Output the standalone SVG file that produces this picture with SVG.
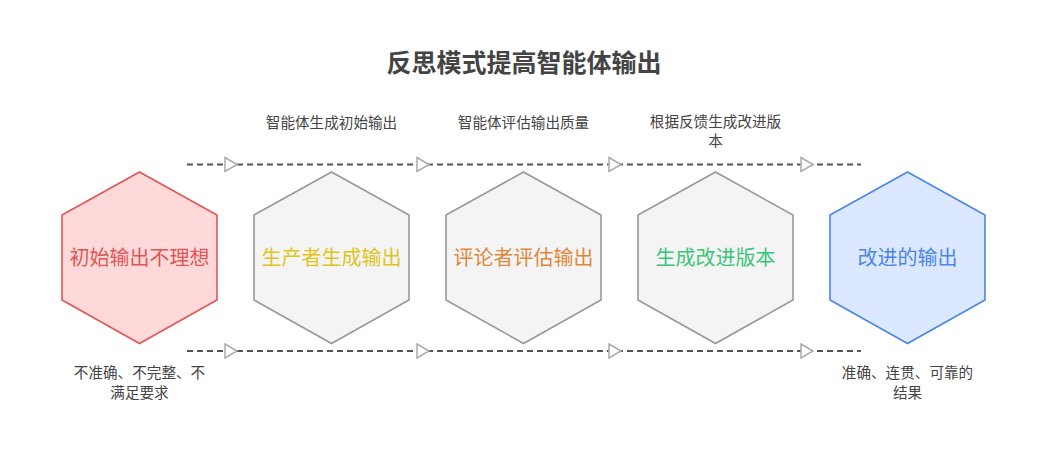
<svg xmlns="http://www.w3.org/2000/svg" width="1048" height="462" viewBox="0 0 1048 462">
<style>
text{font-family:"Noto Sans CJK SC","Liberation Sans",sans-serif;text-anchor:middle}
.title{font-size:25px;font-weight:bold;fill:#444}
.lbl{font-size:14.6px;fill:#444}
.nt{font-size:20px}
.gray{fill:#f4f4f4;stroke:#999;stroke-width:1.6}
.conn{stroke:#555;stroke-width:2;stroke-dasharray:6,4;fill:none}
.arr{fill:#fff;stroke:#aaa;stroke-width:1.5}
</style>
<rect width="1048" height="462" fill="#fff"/>
<text class="title" x="524" y="72">反思模式提高智能体输出</text>
<g id="connectors">
<line class="conn" x1="187" y1="164.5" x2="861" y2="164.5"/>
<line class="conn" x1="187" y1="351" x2="861" y2="351"/>
<polygon class="arr" points="225,157.5 237,164.5 225,171.5"/>
<polygon class="arr" points="417,157.5 429,164.5 417,171.5"/>
<polygon class="arr" points="609,157.5 621,164.5 609,171.5"/>
<polygon class="arr" points="801,157.5 813,164.5 801,171.5"/>
<polygon class="arr" points="225,344 237,351 225,358"/>
<polygon class="arr" points="417,344 429,351 417,358"/>
<polygon class="arr" points="609,344 621,351 609,358"/>
<polygon class="arr" points="801,344 813,351 801,358"/>
</g>
<g id="label1"><text class="lbl" x="331.5" y="127.5">智能体生成初始输出</text></g>
<g id="label2"><text class="lbl" x="523.5" y="127.5">智能体评估输出质量</text></g>
<g id="label3"><text class="lbl" x="715.5" y="127">根据反馈生成改进版</text><text class="lbl" x="715.5" y="146">本</text></g>
<g id="label4"><text class="lbl" x="139.5" y="378">不准确、不完整、不</text><text class="lbl" x="139.5" y="397.5">满足要求</text></g>
<g id="label5"><text class="lbl" x="907.5" y="378">准确、连贯、可靠的</text><text class="lbl" x="907.5" y="397.5">结果</text></g>
<g id="node1">
<polygon points="139.5,172 217,215 217,300 139.5,343.5 62,300 62,215" fill="#ffd9d9" stroke="#e05656" stroke-width="1.6"/>
<text class="nt" x="139.5" y="265" fill="#e05656">初始输出不理想</text>
</g>
<g id="node2">
<polygon class="gray" points="331.5,172 409,215 409,300 331.5,343.5 254,300 254,215"/>
<text class="nt" x="331.5" y="265" fill="#e0c41c">生产者生成输出</text>
</g>
<g id="node3">
<polygon class="gray" points="523.5,172 601,215 601,300 523.5,343.5 446,300 446,215"/>
<text class="nt" x="523.5" y="265" fill="#e0883a">评论者评估输出</text>
</g>
<g id="node4">
<polygon class="gray" points="715.5,172 793,215 793,300 715.5,343.5 638,300 638,215"/>
<text class="nt" x="715.5" y="265" fill="#3cc47c">生成改进版本</text>
</g>
<g id="node5">
<polygon points="907.5,172 985,215 985,300 907.5,343.5 830,300 830,215" fill="#dce8ff" stroke="#4a86e8" stroke-width="1.6"/>
<text class="nt" x="907.5" y="265" fill="#4a86e8">改进的输出</text>
</g>
</svg>
